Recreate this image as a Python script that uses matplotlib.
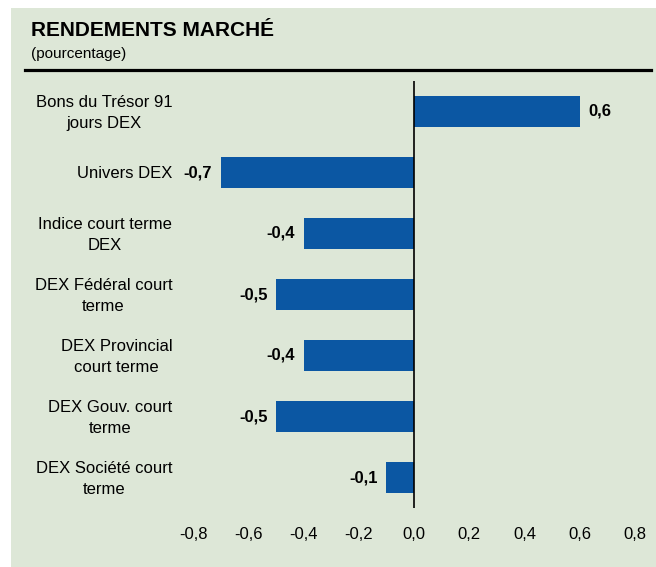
import matplotlib
matplotlib.use("Agg")
import matplotlib.pyplot as plt
from matplotlib.patches import Rectangle
from matplotlib.lines import Line2D
from matplotlib.transforms import ScaledTranslation

categories = [
    "Bons du Trésor 91\njours DEX",
    "Univers DEX",
    "Indice court terme\nDEX",
    "DEX Fédéral court\nterme",
    "DEX Provincial\ncourt terme",
    "DEX Gouv. court\nterme",
    "DEX Société court\nterme",
]
values = [0.6, -0.7, -0.4, -0.5, -0.4, -0.5, -0.1]
xticks = [-0.8, -0.6, -0.4, -0.2, 0.0, 0.2, 0.4, 0.6, 0.8]

plt.rcParams['font.family'] = ['Liberation Sans', 'DejaVu Sans']

W, H = 656, 567
BG = "#dde7d7"
BAR = "#0b57a3"

fig = plt.figure(figsize=(W / 100, H / 100), dpi=100)
fig.patch.set_facecolor("white")
fig.patches.append(Rectangle((11 / W, 0), 1 - 11 / W, (H - 8) / H,
                             transform=fig.transFigure, facecolor=BG,
                             edgecolor="none", zorder=-10))

ax = fig.add_axes([193 / W, (H - 508) / H, (635 - 193) / W, (508 - 81) / H])
ax.set_facecolor("none")
ax.set_zorder(5)

y = list(range(len(categories)))
ax.barh(y, values, height=0.5, color=BAR, zorder=2)
ax.set_xlim(-0.8, 0.8)
ax.set_ylim(len(categories) - 0.5, -0.5)
ax.axvline(0, color="black", lw=1.2, zorder=3)

for sp in ax.spines.values():
    sp.set_visible(False)

ax.set_xticks(xticks)
ax.set_xticklabels([f"{t:.1f}".replace(".", ",") for t in xticks], fontsize=12)
ax.tick_params(axis="x", length=0, pad=14)
ax.set_yticks(y)
ax.set_yticklabels(categories, fontsize=12, multialignment="center",
                   linespacing=1.5)
ax.tick_params(axis="y", length=0, pad=15)
shift = ScaledTranslation(0, 3 / 100, fig.dpi_scale_trans)
for t in ax.get_yticklabels():
    if "\n" in t.get_text():
        t.set_transform(t.get_transform() + shift)

for yi, v in zip(y, values):
    lbl = f"{v:.1f}".replace(".", ",")
    if v >= 0:
        ax.annotate(lbl, (v, yi), xytext=(6, 0), textcoords="offset points",
                    ha="left", va="center", fontsize=12, fontweight="bold")
    else:
        ax.annotate(lbl, (v, yi), xytext=(-6, 0), textcoords="offset points",
                    ha="right", va="center", fontsize=12, fontweight="bold")

fig.text(31 / W, 1 - 36 / H, "RENDEMENTS MARCHÉ", fontsize=15,
         fontweight="bold", ha="left", va="baseline", zorder=6)
fig.text(31 / W, 1 - 58 / H, "(pourcentage)", fontsize=11,
         ha="left", va="baseline", zorder=6)
fig.lines.append(Line2D([25 / W, 651 / W], [1 - 69.5 / H, 1 - 69.5 / H],
                        transform=fig.transFigure, color="black", lw=2.3,
                        zorder=6))

fig.savefig("out.png", dpi=100)
